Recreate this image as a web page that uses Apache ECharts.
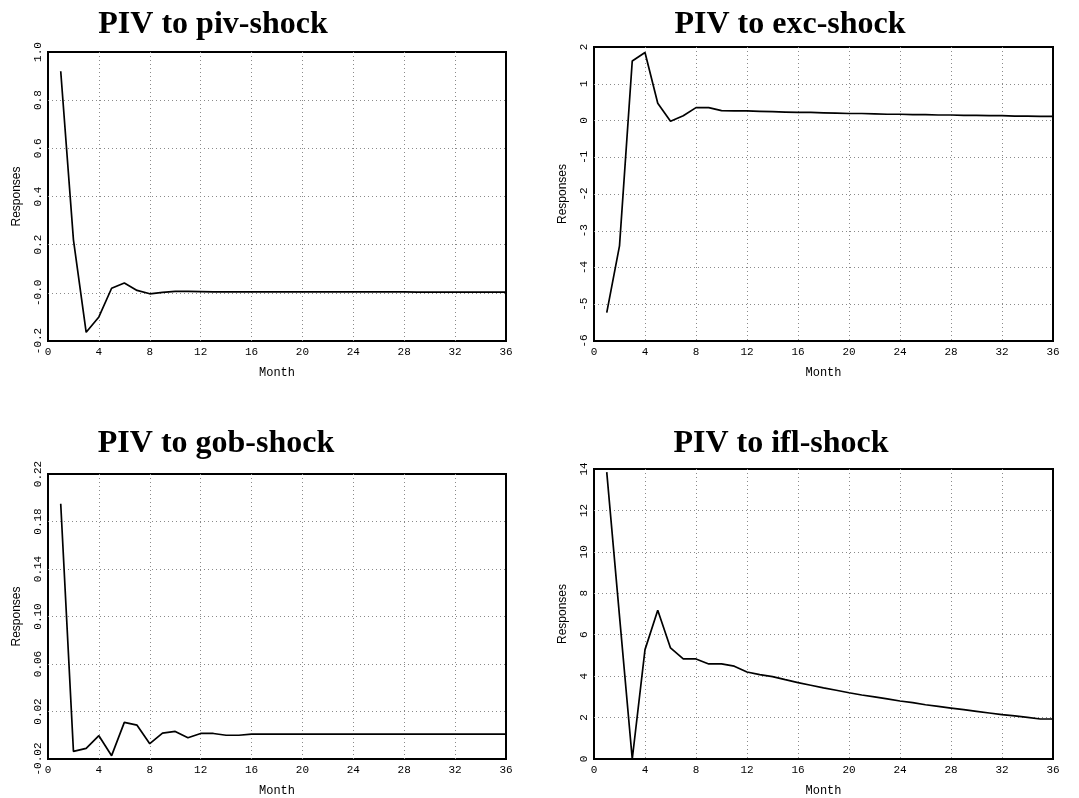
<!DOCTYPE html>
<html>
<head>
<meta charset="utf-8">
<title>PIV impulse responses</title>
<script src="https://cdn.jsdelivr.net/npm/echarts@6/dist/echarts.min.js"></script>
<style>
  html, body { margin: 0; padding: 0; background: #ffffff; }
  #chart { width: 1079px; height: 798px; }
</style>
</head>
<body>
<div id="chart"></div>
<script>
// Horizon (months) and impulse responses of PIV to each shock
const months = [1,2,3,4,5,6,7,8,9,10,11,12,13,14,15,16,17,18,19,20,21,22,23,24,25,26,27,28,29,30,31,32,33,34,35,36];

const pivShock = [0.92,0.22,-0.164,-0.10,0.019,0.041,0.010,-0.004,0.002,0.006,0.006,0.005,
  0.004,0.004,0.004,0.004,0.004,0.004,0.004,0.004,0.004,0.004,0.004,0.004,
  0.004,0.004,0.004,0.004,0.003,0.003,0.003,0.003,0.003,0.003,0.003,0.003];

const excShock = [-5.23,-3.41,1.62,1.85,0.47,-0.02,0.13,0.35,0.35,0.27,0.26,0.26,
  0.25,0.24,0.23,0.22,0.22,0.21,0.20,0.19,0.19,0.18,0.17,0.17,
  0.16,0.16,0.15,0.15,0.14,0.14,0.13,0.13,0.12,0.12,0.11,0.11];

const gobShock = [0.195,-0.0136,-0.011,-0.0004,-0.0172,0.0108,0.0085,-0.0071,0.0018,0.0032,-0.0021,0.0015,
  0.0015,0.0,0.0,0.001,0.001,0.001,0.001,0.001,0.001,0.001,0.001,0.001,
  0.001,0.001,0.001,0.001,0.001,0.001,0.001,0.001,0.001,0.001,0.001,0.001];

const iflShock = [13.85,6.9,0.0,5.28,7.18,5.36,4.83,4.83,4.59,4.59,4.48,4.20,
  4.07,3.98,3.83,3.69,3.56,3.43,3.32,3.20,3.09,3.00,2.90,2.80,
  2.72,2.62,2.54,2.46,2.38,2.30,2.22,2.14,2.08,2.01,1.93,1.93];

// Tick values and their printed labels
const monthTicks = [0,4,8,12,16,20,24,28,32,36];
const monthLabels = ['0','4','8','12','16','20','24','28','32','36'];

const pivTicks = [-0.2,0,0.2,0.4,0.6,0.8,1.0];
const pivLabels = ['-0.2','-0.0','0.2','0.4','0.6','0.8','1.0'];

const excTicks = [-6,-5,-4,-3,-2,-1,0,1,2];
const excLabels = ['-6','-5','-4','-3','-2','-1','0','1','2'];

const gobTicks = [-0.02,0.02,0.06,0.10,0.14,0.18,0.22];
const gobLabels = ['-0.02','0.02','0.06','0.10','0.14','0.18','0.22'];

const iflTicks = [0,2,4,6,8,10,12,14];
const iflLabels = ['0','2','4','6','8','10','12','14'];

const titles = ['PIV to piv-shock','PIV to exc-shock','PIV to gob-shock','PIV to ifl-shock'];

const panels = [
  { values: pivShock, ticks: pivTicks, labels: pivLabels },
  { values: excShock, ticks: excTicks, labels: excLabels },
  { values: gobShock, ticks: gobTicks, labels: gobLabels },
  { values: iflShock, ticks: iflTicks, labels: iflLabels }
];

// Layout of the four plotting frames
const frames = [
  { left: 48,  top: 52,  width: 458, height: 289 },
  { left: 594, top: 47,  width: 459, height: 294 },
  { left: 48,  top: 474, width: 458, height: 285 },
  { left: 594, top: 469, width: 459, height: 290 }
];
const titlePos = [
  { x: 208, y: 4 },
  { x: 785, y: 4 },
  { x: 211, y: 423 },
  { x: 776, y: 423 }
];

const monoFont = '"Liberation Mono", "DejaVu Sans Mono", monospace';
const gridLine = { show: true, lineStyle: { color: '#8a8a8a', width: 1, type: [1, 3] } };

// Dotted grid lines only inside the frame, the frame itself stays solid
const inner = arr => arr.slice(1, arr.length - 1);

function labelFor(ticks, labels) {
  return function (v) {
    let best = 0;
    for (let i = 1; i < ticks.length; i++) {
      if (Math.abs(ticks[i] - v) < Math.abs(ticks[best] - v)) best = i;
    }
    return labels[best];
  };
}

const option = {
  backgroundColor: '#ffffff',
  animation: false,
  title: titles.map((t, i) => ({
    text: t,
    left: titlePos[i].x,
    top: titlePos[i].y,
    textAlign: 'center',
    textStyle: {
      fontFamily: '"Liberation Serif", "Times New Roman", serif',
      fontWeight: 'bold',
      fontSize: 32,
      color: '#000'
    }
  })),
  grid: frames.map(f => ({
    left: f.left, top: f.top, width: f.width, height: f.height,
    show: true, borderColor: '#000', borderWidth: 2, backgroundColor: 'transparent',
    containLabel: false
  })),
  xAxis: frames.map((f, i) => ({
    type: 'value',
    gridIndex: i,
    min: 0, max: 36,
    name: 'Month',
    nameLocation: 'middle',
    nameGap: 26,
    nameTextStyle: { fontFamily: monoFont, fontSize: 12, color: '#000' },
    axisLine: { show: false },
    axisTick: { show: false, customValues: inner(monthTicks) },
    axisLabel: {
      customValues: monthTicks,
      formatter: labelFor(monthTicks, monthLabels),
      fontFamily: monoFont, fontSize: 11, color: '#000', margin: 6,
      showMinLabel: true, showMaxLabel: true
    },
    splitLine: gridLine
  })),
  yAxis: panels.map((p, i) => ({
    type: 'value',
    gridIndex: i,
    min: p.ticks[0],
    max: p.ticks[p.ticks.length - 1],
    name: 'Responses',
    nameLocation: 'middle',
    nameRotate: 90,
    nameGap: 25,
    nameTextStyle: { fontFamily: '"Liberation Sans", Arial, sans-serif', fontSize: 12, color: '#000' },
    axisLine: { show: false },
    axisTick: { show: false, customValues: inner(p.ticks) },
    axisLabel: {
      customValues: p.ticks,
      formatter: labelFor(p.ticks, p.labels),
      rotate: 90,
      fontFamily: monoFont, fontSize: 11, color: '#000', margin: 4,
      showMinLabel: true, showMaxLabel: true
    },
    splitLine: gridLine
  })),
  series: panels.map((p, i) => ({
    type: 'line',
    xAxisIndex: i,
    yAxisIndex: i,
    data: months.map((m, k) => [m, p.values[k]]),
    showSymbol: false,
    symbol: 'none',
    lineStyle: { color: '#000', width: 1.7 },
    clip: true
  }))
};

const chart = echarts.init(document.getElementById('chart'), null, { renderer: 'canvas' });
chart.setOption(option);
</script>
</body>
</html>
